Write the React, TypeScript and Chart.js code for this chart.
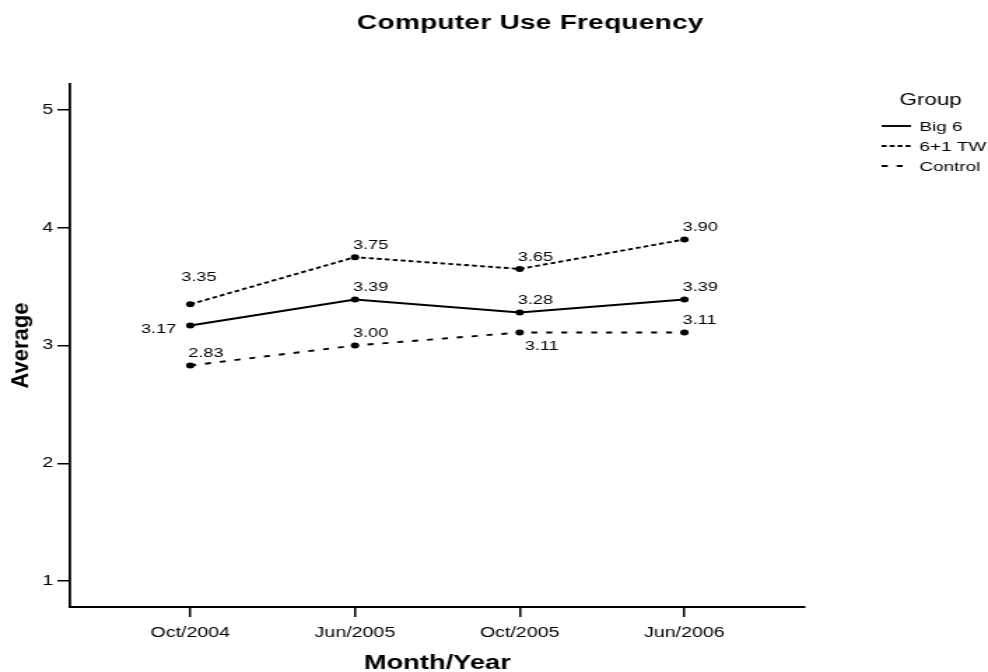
import React, { useEffect, useRef } from 'react';
import { Chart, registerables } from 'chart.js';

Chart.register(...registerables);

// ---- data ----
const CHART_TITLE = 'Computer Use Frequency';
const X_TITLE = 'Month/Year';
const Y_TITLE = 'Average';
const LEGEND_TITLE = 'Group';
const periods = ['Oct/2004', 'Jun/2005', 'Oct/2005', 'Jun/2006'];
const yTickValues = [1, 2, 3, 4, 5];
const seriesNames = ['Big 6', '6+1 TW', 'Control'];
const big6 = [3.17, 3.39, 3.28, 3.39];
const sixPlusOneTW = [3.35, 3.75, 3.65, 3.9];
const control = [2.83, 3.0, 3.11, 3.11];

// label placement keywords per series (not coordinates)
const big6Placement = ['left', 'up', 'up', 'up'];
const twPlacement = ['upHigh', 'up', 'up', 'up'];
const controlPlacement = ['up', 'up', 'down', 'up'];

// ---- look ----
const S = 1.4; // horizontal stretch of the reference picture
const W = 706;
const H = 672;
const FONT = '"Liberation Sans", Arial, Helvetica, sans-serif';
const INK = '#000';

const seriesValues = [big6, sixPlusOneTW, control];
const seriesPlacement = [big6Placement, twPlacement, controlPlacement];
const seriesDash = [[], [3.5, 2.2], [4.3, 6.4]];

const decorPlugin = {
  id: 'decor',
  afterDatasetsDraw(chart: any) {
    const ctx = chart.ctx as CanvasRenderingContext2D;
    ctx.save();
    ctx.fillStyle = INK;
    ctx.font = `13px ${FONT}`;
    chart.data.datasets.forEach((ds: any, di: number) => {
      const meta = chart.getDatasetMeta(di);
      const place = seriesPlacement[di];
      meta.data.forEach((pt: any, i: number) => {
        const v = seriesValues[di][i];
        const txt = v.toFixed(2);
        const p = place[i];
        ctx.textBaseline = 'middle';
        if (p === 'left') {
          ctx.textAlign = 'right';
          ctx.fillText(txt, pt.x - 10, pt.y + 4);
        } else if (p === 'upHigh') {
          ctx.textAlign = 'left';
          ctx.fillText(txt, pt.x - 6.4, pt.y - 27);
        } else if (p === 'down') {
          ctx.textAlign = 'left';
          ctx.fillText(txt, pt.x + 3.6, pt.y + 14);
        } else {
          ctx.textAlign = 'left';
          ctx.fillText(txt, pt.x - 1.4, pt.y - 12);
        }
      });
    });
    ctx.restore();
  },
  afterDraw(chart: any) {
    const ctx = chart.ctx as CanvasRenderingContext2D;
    const area = chart.chartArea;
    ctx.save();
    ctx.fillStyle = INK;
    // main title
    ctx.font = `bold 20px ${FONT}`;
    (ctx as any).letterSpacing = '0.2px';
    ctx.textAlign = 'center';
    ctx.textBaseline = 'middle';
    ctx.fillText(CHART_TITLE, 379, 23);
    (ctx as any).letterSpacing = '0px';

    // y axis title (rotated, compensated for stretch)
    ctx.save();
    ctx.translate(15.8, (area.top + area.bottom) / 2);
    ctx.scale(1 / S, 1);
    ctx.rotate(-Math.PI / 2);
    ctx.font = `bold 22px ${FONT}`;
    ctx.textAlign = 'center';
    ctx.textBaseline = 'middle';
    ctx.fillText(Y_TITLE, 0, 0);
    ctx.restore();

    // legend
    ctx.font = `16px ${FONT}`;
    ctx.textAlign = 'center';
    ctx.textBaseline = 'middle';
    ctx.fillText(LEGEND_TITLE, 665, 101);
    chart.data.datasets.forEach((ds: any, di: number) => {
      const y = 126 + di * 20;
      ctx.save();
      ctx.strokeStyle = ds.borderColor;
      ctx.lineWidth = ds.borderWidth;
      ctx.setLineDash(ds.borderDash || []);
      ctx.beginPath();
      ctx.moveTo(630, y);
      ctx.lineTo(651, y);
      ctx.stroke();
      ctx.restore();
      ctx.font = `13.5px ${FONT}`;
      ctx.textAlign = 'left';
      ctx.fillText(ds.label, 657, y + 1);
    });
    ctx.restore();
  },
};

export default function App() {
  const ref = useRef<HTMLCanvasElement | null>(null);

  useEffect(() => {
    if (!ref.current) return;
    const datasets = seriesNames.map((name, di) => ({
      label: name,
      data: seriesValues[di].map((v, i) => ({ x: i, y: v })),
      borderColor: INK,
      backgroundColor: INK,
      borderWidth: 1.9,
      borderDash: seriesDash[di],
      pointRadius: 3,
      pointBorderWidth: 0,
      pointBackgroundColor: INK,
      tension: 0,
    }));
    const chart = new Chart(ref.current, {
      type: 'line',
      data: { datasets },
      plugins: [decorPlugin],
      options: {
        animation: false,
        responsive: false,
        devicePixelRatio: 1,
        layout: { padding: { top: 84, right: 131, left: 0, bottom: 0 } },
        plugins: {
          legend: { display: false },
          title: { display: false },
          tooltip: { enabled: false },
        },
        scales: {
          x: {
            type: 'linear',
            min: -0.73,
            max: 3.73,
            afterBuildTicks: (s: any) => {
              s.ticks = periods.map((_, i) => ({ value: i }));
            },
            afterFit: (s: any) => {
              s.height = 65;
            },
            ticks: {
              color: INK,
              font: { family: FONT, size: 14 },
              padding: 8,
              maxRotation: 0,
              autoSkip: false,
              callback: (v: any) => periods[Math.round(Number(v))] ?? '',
            },
            grid: {
              drawOnChartArea: false,
              drawTicks: true,
              tickLength: 10,
              color: INK,
              lineWidth: 1.5,
            },
            border: { display: true, color: INK, width: 2 },
            title: {
              display: true,
              text: X_TITLE,
              color: INK,
              font: { family: FONT, size: 19.5, weight: 'bold', lineHeight: 1 },
              padding: { top: 0, bottom: -1 },
            },
          },
          y: {
            type: 'linear',
            min: 0.78,
            max: 5.22,
            afterBuildTicks: (s: any) => {
              s.ticks = yTickValues.map((v) => ({ value: v }));
            },
            afterFit: (s: any) => {
              s.width = 50;
            },
            ticks: {
              color: INK,
              font: { family: FONT, size: 14 },
              padding: 3,
              callback: (v: any) => String(v),
            },
            grid: {
              drawOnChartArea: false,
              drawTicks: true,
              tickLength: 9,
              color: INK,
              lineWidth: 1.5,
            },
            border: { display: true, color: INK, width: 1.8 },
          },
        },
      } as any,
    });
    return () => chart.destroy();
  }, []);

  return (
    <div style={{ position: 'fixed', left: 0, top: 0, width: 988, height: 672, background: '#fff' }}>
      <canvas
        ref={ref}
        width={W}
        height={H}
        style={{ width: '988px', height: '672px', display: 'block' }}
      />
    </div>
  );
}
